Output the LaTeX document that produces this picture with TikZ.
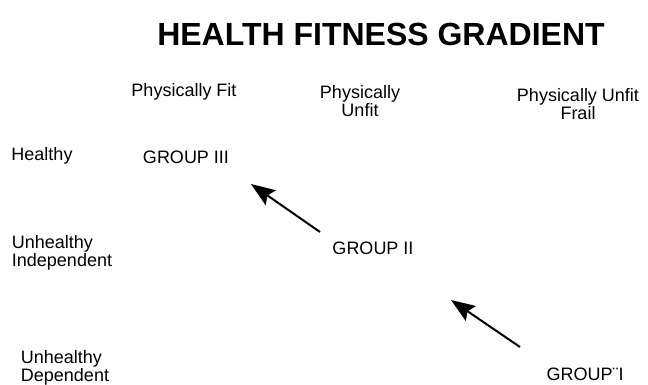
\documentclass[tikz,border=0pt]{standalone}
\usepackage{fontspec}
\setmainfont{Liberation Sans}
\usetikzlibrary{arrows.meta, positioning}

\begin{document}
\begin{tikzpicture}[x=1pt, y=-1pt,
    every node/.style={inner sep=0pt, font=\fontsize{18}{18}\selectfont},
    title/.style={font=\fontsize{32}{34}\selectfont\bfseries},
    label/.style={align=center},
    rowlabel/.style={align=left},
    move/.style={line width=2pt, -{Stealth[length=24pt, width=18pt, inset=4pt]}}]
    \useasboundingbox (0,0) rectangle (648,385);
    \node[title] (title) at (381,34) {HEALTH FITNESS GRADIENT};
    % column heads
    \node[label] (fit) at (184,92) {Physically Fit};
    \node[label] (unfit) at (360,101) {Physically\\Unfit};
    \node[label] (frail) at (578,104) {Physically Unfit\\Frail};
    % row heads
    \node[rowlabel] (healthy) at (42,156) {Healthy};
    \node[rowlabel] (indep) at (62,253) {Unhealthy\\Independent};
    \node[rowlabel] (dep) at (65,368) {Unhealthy\\Dependent};
    % groups
    \node (g3) at (186,157) {GROUP III};
    \node (g2) at (373,248) {GROUP II};
    \node (g1) at (585,374) {GROUP¨I};
    \coordinate (a1s) at (320,232);
    \coordinate (a1e) at (251,184);
    \coordinate (a2s) at (520,347);
    \coordinate (a2e) at (451,300);
    \draw[move] (a1s) -- (a1e);
    \draw[move] (a2s) -- (a2e);
\end{tikzpicture}
\end{document}
